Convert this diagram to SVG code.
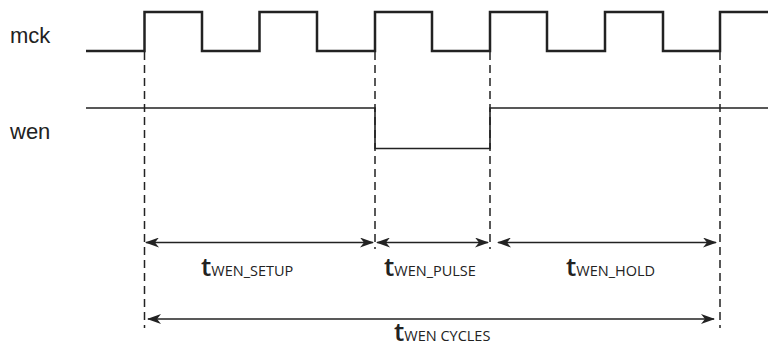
<svg xmlns="http://www.w3.org/2000/svg" width="768" height="349" viewBox="0 0 768 349">
<style>
.sig{fill:none;stroke:#222;stroke-linejoin:miter}
.clk{stroke-width:2.5}
.wen{stroke-width:1.6}
.dash{fill:none;stroke:#222;stroke-width:1.5;stroke-dasharray:8 5}
.arr{fill:none;stroke:#222;stroke-width:1.4;marker-start:url(#ah);marker-end:url(#ah)}
.lbl{font-family:"Liberation Sans",Arial,sans-serif;font-size:22px;fill:#222}
.t{font-family:"Open Sans","DejaVu Sans",sans-serif;fill:#222}
.tb{font-size:26px;font-weight:600}
.ts{font-size:14.5px}
</style>
<defs>
<marker id="ah" viewBox="0 0 14 10" refX="13" refY="5" markerWidth="14" markerHeight="10" markerUnits="userSpaceOnUse" orient="auto-start-reverse">
<path d="M0,0 L14,5 L0,10 L4,5 Z" fill="#222"/>
</marker>
</defs>
<g id="label-mck"><text class="lbl" x="10" y="43">mck</text></g>
<g id="label-wen"><text class="lbl" x="10" y="139">wen</text></g>
<g id="mck">
<polyline class="sig clk" points="86,51 144.5,51 144.5,12 202,12 202,51 259.5,51 259.5,12 317,12 317,51 375,51 375,12 432,12 432,51 490,51 490,12 547,12 547,51 605,51 605,12 663,12 663,51 720,51 720,12 768,12"/>
</g>
<g id="wen">
<polyline class="sig wen" points="86,108 375,108 375,148.5 490,148.5 490,108 768,108"/>
</g>
<g id="connectors">
<line class="dash" x1="144.5" y1="52" x2="144.5" y2="328"/>
<line class="dash" x1="375" y1="52" x2="375" y2="249"/>
<line class="dash" x1="490" y1="52" x2="490" y2="249"/>
<line class="dash" x1="720" y1="52" x2="720" y2="328"/>
<line class="arr" x1="146" y1="242.5" x2="373" y2="242.5"/>
<line class="arr" x1="377" y1="242.5" x2="488" y2="242.5"/>
<line class="arr" x1="498" y1="242.5" x2="716" y2="242.5"/>
<line class="arr" x1="148" y1="319" x2="714" y2="319"/>
</g>
<g id="label-setup"><text class="t" x="201" y="276"><tspan class="tb">t</tspan><tspan class="ts">WEN_SETUP</tspan></text></g>
<g id="label-pulse"><text class="t" x="384" y="276"><tspan class="tb">t</tspan><tspan class="ts">WEN_PULSE</tspan></text></g>
<g id="label-hold"><text class="t" x="566" y="276"><tspan class="tb">t</tspan><tspan class="ts">WEN_HOLD</tspan></text></g>
<g id="label-cycles"><text class="t" x="394" y="341"><tspan class="tb">t</tspan><tspan class="ts">WEN CYCLES</tspan></text></g>
</svg>
